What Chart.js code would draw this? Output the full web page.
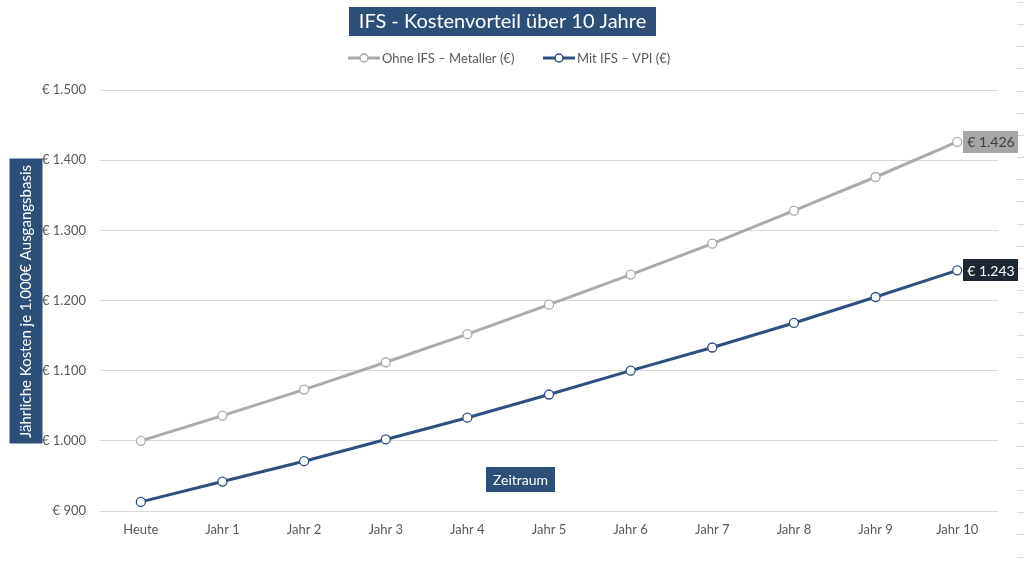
<!DOCTYPE html>
<html>
<head>
<meta charset="utf-8">
<script src="https://cdn.jsdelivr.net/npm/chart.js@4"></script>
<style>
  html, body { margin: 0; padding: 0; background: #ffffff; }
  canvas { display: block; }
</style>
</head>
<body>
<canvas id="c" width="1024" height="574"></canvas>
<script>
// ---- data ----
const categories = ['Heute', 'Jahr 1', 'Jahr 2', 'Jahr 3', 'Jahr 4', 'Jahr 5', 'Jahr 6', 'Jahr 7', 'Jahr 8', 'Jahr 9', 'Jahr 10'];
const ohneIFS = [1000, 1036, 1073, 1112, 1152, 1194, 1237, 1281, 1328, 1376, 1426];
const mitIFS = [913, 942, 971, 1002, 1033, 1066, 1100, 1133, 1168, 1205, 1243];
const seriesNames = ['Ohne IFS – Metaller (€)', 'Mit IFS – VPI (€)'];
const yTicks = [900, 1000, 1100, 1200, 1300, 1400, 1500];
const titleText = 'IFS - Kostenvorteil über 10 Jahre';
const yTitleText = 'Jährliche Kosten je 1.000€ Ausgangsbasis';
const xTitleText = 'Zeitraum';

const FONT = 'Lato, "Open Sans", "Noto Sans", sans-serif';
const GRAY = '#ABABAB';
const BLUE = '#2E5081';
const BOX = '#2E4E7A';
const TXT = '#595959';

function fmtEuro(v) {
  return '€ ' + Number(v).toLocaleString('de-DE');
}

function box(ctx, cx, cy, w, h, color) {
  ctx.fillStyle = color;
  ctx.fillRect(Math.round(cx - w / 2), Math.round(cy - h / 2), Math.round(w), Math.round(h));
}

const decor = {
  id: 'decor',
  beforeDraw(chart) {
    const ctx = chart.ctx;
    ctx.save();
    // right-edge ruler marks
    ctx.strokeStyle = '#D9D9D9';
    ctx.lineWidth = 1;
    for (let y = 1.7; y < 574; y += 22.2) {
      ctx.beginPath();
      ctx.moveTo(1017, Math.round(y) + 0.5);
      ctx.lineTo(1024, Math.round(y) + 0.5);
      ctx.stroke();
    }
    ctx.restore();
  },
  afterDraw(chart) {
    const ctx = chart.ctx;
    ctx.save();
    ctx.textBaseline = 'middle';
    ctx.textAlign = 'center';

    // title
    ctx.font = '20px ' + FONT;
    const tw = ctx.measureText(titleText).width;
    box(ctx, 502.5, 21, tw + 20, 29, BOX);
    ctx.fillStyle = '#ffffff';
    ctx.fillText(titleText, 502.5, 22);

    // legend
    ctx.font = '13px ' + FONT;
    ctx.textAlign = 'left';
    const legendItems = [
      { x: 348, color: GRAY, text: chart.data.datasets[0].label },
      { x: 543, color: BLUE, text: chart.data.datasets[1].label }
    ];
    legendItems.forEach(it => {
      ctx.strokeStyle = it.color;
      ctx.lineWidth = 3;
      ctx.beginPath();
      ctx.moveTo(it.x, 58);
      ctx.lineTo(it.x + 32, 58);
      ctx.stroke();
      ctx.beginPath();
      ctx.arc(it.x + 16, 58, 4, 0, Math.PI * 2);
      ctx.fillStyle = '#ffffff';
      ctx.fill();
      ctx.lineWidth = 1.5;
      ctx.stroke();
      ctx.fillStyle = TXT;
      ctx.fillText(it.text, it.x + 34, 58.5);
    });

    // y-axis title (rotated)
    ctx.font = '15px ' + FONT;
    const yw = ctx.measureText(yTitleText).width;
    ctx.save();
    ctx.translate(25.5, 301.5);
    ctx.rotate(-Math.PI / 2);
    box(ctx, 0, 0, yw + 12, 33, BOX);
    ctx.fillStyle = '#ffffff';
    ctx.textAlign = 'center';
    ctx.fillText(yTitleText, 0, 1);
    ctx.restore();

    // x-axis title box inside plot
    ctx.font = '14px ' + FONT;
    ctx.textAlign = 'center';
    const xw = ctx.measureText(xTitleText).width;
    box(ctx, 520.5, 479.5, xw + 14, 25, BOX);
    ctx.fillStyle = '#ffffff';
    ctx.fillText(xTitleText, 520.5, 480.5);

    // end value labels
    const styles = [
      { bg: '#A6A6A6', fg: '#3F3F3F' },
      { bg: '#1E2634', fg: '#ffffff' }
    ];
    ctx.font = '14px ' + FONT;
    chart.data.datasets.forEach((ds, i) => {
      const meta = chart.getDatasetMeta(i);
      const last = meta.data[meta.data.length - 1];
      const txt = fmtEuro(ds.data[ds.data.length - 1]);
      const w = ctx.measureText(txt).width + 8;
      const x0 = last.x + 6;
      ctx.fillStyle = styles[i].bg;
      ctx.fillRect(Math.round(x0), Math.round(last.y - 11), Math.round(w), 22);
      ctx.fillStyle = styles[i].fg;
      ctx.textAlign = 'center';
      ctx.fillText(txt, x0 + w / 2, last.y + 1);
    });
    ctx.restore();
  }
};

new Chart(document.getElementById('c'), {
  type: 'line',
  data: {
    labels: categories,
    datasets: [
      {
        label: seriesNames[0],
        data: ohneIFS,
        borderColor: GRAY,
        backgroundColor: '#ffffff',
        borderWidth: 3,
        pointRadius: 4.5,
        pointBorderWidth: 1.3,
        pointBackgroundColor: '#ffffff',
        pointBorderColor: GRAY,
        tension: 0
      },
      {
        label: seriesNames[1],
        data: mitIFS,
        borderColor: BLUE,
        backgroundColor: '#ffffff',
        borderWidth: 3,
        pointRadius: 4.5,
        pointBorderWidth: 1.3,
        pointBackgroundColor: '#ffffff',
        pointBorderColor: BLUE,
        tension: 0
      }
    ]
  },
  options: {
    responsive: false,
    animation: false,
    devicePixelRatio: 1,
    layout: { padding: { left: 0, right: 26, top: 90, bottom: 23 } },
    plugins: {
      legend: { display: false },
      title: { display: false },
      tooltip: { enabled: false }
    },
    scales: {
      x: {
        offset: true,
        grid: { display: false, drawTicks: false },
        border: { display: false },
        ticks: { color: TXT, font: { family: FONT, size: 13 }, padding: 11, maxRotation: 0 },
        afterFit(s) { s.height = 40; }
      },
      y: {
        min: yTicks[0],
        max: yTicks[yTicks.length - 1],
        afterBuildTicks(s) { s.ticks = yTicks.map(v => ({ value: v })); },
        grid: { color: '#D9D9D9', lineWidth: 1, drawTicks: false },
        border: { display: false },
        ticks: {
          color: TXT,
          font: { family: FONT, size: 13 },
          padding: 14,
          callback: v => fmtEuro(v)
        },
        afterFit(s) { s.width = 100; }
      }
    }
  },
  plugins: [decor]
});
</script>
</body>
</html>
